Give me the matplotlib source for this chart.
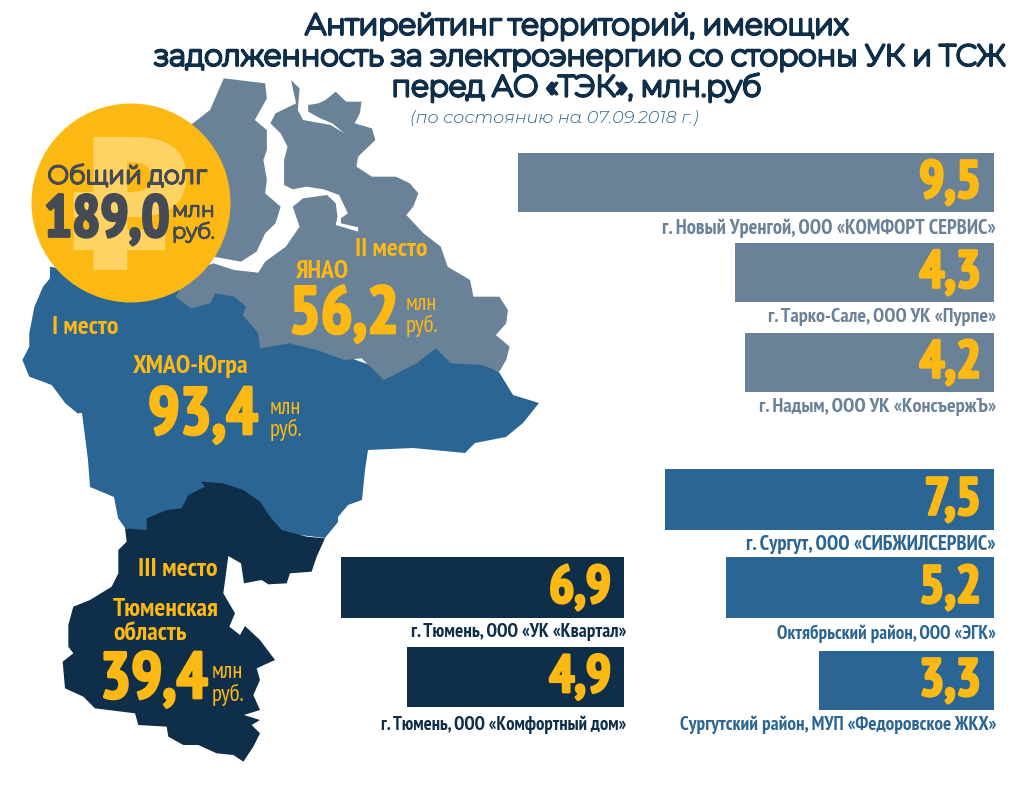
import matplotlib
matplotlib.use("Agg")
import matplotlib.pyplot as plt
from matplotlib.patches import Polygon, Circle
import matplotlib.patheffects as pe

NARROW = ["PT Sans Narrow", "DejaVu Sans"]
ROUND = ["Montserrat", "DejaVu Sans"]
ITALIC = ["Montserrat Alternates", "DejaVu Sans"]

GREY = "#6A8297"
BLUE = "#2A6593"
NAVY = "#0F2E4A"
GOLD = "#FDB913"
DARK_TEXT = "#444B54"

# the bars in the original are not on one common scale, so each keeps its drawn length
bars = [
    {"value": "9,5", "length": 476, "right": 994, "top": 153, "bottom": 212, "color": GREY, "label": "г. Новый Уренгой, ООО «КОМФОРТ СЕРВИС»", "label_y": 228, "label_size": 14.8},
    {"value": "4,3", "length": 259, "right": 994, "top": 243, "bottom": 302, "color": GREY, "label": "г. Тарко-Сале, ООО УК «Пурпе»", "label_y": 317, "label_size": 14.6},
    {"value": "4,2", "length": 249, "right": 994, "top": 333, "bottom": 392, "color": GREY, "label": "г. Надым, ООО УК «КонсъержЪ»", "label_y": 407, "label_size": 14.7},
    {"value": "7,5", "length": 329, "right": 994, "top": 469, "bottom": 530, "color": BLUE, "label": "г. Сургут, ООО «СИБЖИЛСЕРВИС»", "label_y": 545, "label_size": 14.8},
    {"value": "5,2", "length": 268, "right": 994, "top": 557, "bottom": 618, "color": BLUE, "label": "Октябрьский район, ООО «ЭГК»", "label_y": 634, "label_size": 13.7},
    {"value": "3,3", "length": 175, "right": 994, "top": 651, "bottom": 710, "color": BLUE, "label": "Сургутский район, МУП «Федоровское ЖКХ»", "label_y": 725, "label_size": 13.9},
    {"value": "6,9", "length": 283, "right": 624, "top": 557, "bottom": 618, "color": NAVY, "label": "г. Тюмень, ООО «УК «Квартал»", "label_y": 632, "label_size": 13.9},
    {"value": "4,9", "length": 217, "right": 624, "top": 647, "bottom": 707, "color": NAVY, "label": "г. Тюмень, ООО «Комфортный дом»", "label_y": 725, "label_size": 13.5},
]

yamal = [(650,25),(770,40),(775,85),(740,150),(775,180),(775,240),(765,270),(775,330),(770,370),(815,410),(800,460),(770,490),(745,545),(700,575),(620,560),(500,500),(500,200),(560,160),(610,120),(635,60)]
yanao = [(560,600),(620,580),(680,600),(750,608),(770,575),(830,530),(870,470),(850,410),(880,385),(950,375),(975,400),(980,440),(975,465),(1040,485),(1040,472),(990,460),(990,445),(1010,430),(985,375),(940,358),(890,350),(850,358),(825,345),(825,270),(835,230),(815,190),(785,160),(800,130),(860,100),(845,30),(870,55),(865,120),(880,150),(960,165),(1000,190),(965,160),(930,145),(895,125),(895,105),(925,100),(945,90),(975,65),(1005,95),(1050,95),(1045,130),(1030,160),(1080,175),(1090,210),(1040,260),(1035,290),(1080,320),(1150,320),(1190,340),(1215,370),(1200,410),(1180,435),(1230,490),(1280,530),(1300,590),(1365,630),(1375,680),(1450,680),(1475,720),(1470,760),(1440,795),(1480,830),(1470,870),(1450,905),(1400,885),(1310,880),(1265,835),(1210,880),(1115,930),(1050,865),(1000,870),(920,840),(840,820),(755,835),(750,790),(705,735),(715,710),(680,680),(625,670),(610,700),(555,715),(510,680)]
khmao_north = [(145,590),(145,625),(125,650),(100,710),(85,790),(85,830),(65,870),(85,920),(150,945),(190,1000),(225,1030)]
khmao_south = [(82,413),(88,460),(90,487),(114,497),(118,518),(125,528),(147,535),(300,535),(325,538),(338,522),(338,517),(348,505),(362,500),(365,470),(368,450),(413,448),(465,453),(475,443),(506,437),(523,423),(539,403),(513,395),(499,372),(440,340),(384,370),(300,340),(262,330),(250,305),(235,290),(215,285),(180,290)]
tyumen = [(255,235),(320,240),(320,205),(380,180),(425,175),(445,135),(495,110),(483,95),(550,100),(610,120),(660,155),(690,200),(725,240),(800,260),(855,265),(830,320),(815,365),(750,370),(740,400),(685,403),(665,390),(612,400),(603,340),(565,318),(550,430),(585,490),(568,530),(600,555),(615,528),(660,570),(705,630),(650,655),(660,690),(640,735),(660,780),(612,795),(660,810),(635,825),(660,850),(640,890),(610,935),(580,915),(530,910),(475,885),(430,885),(385,860),(380,830),(295,825),(285,790),(165,775),(130,740),(75,715),(68,635),(100,610),(85,590),(85,525),(100,470),(150,450),(215,410),(235,370),(235,300),(260,275)]


def crop_top(points):
    return [(x / 2.904, 70 + y / 3) for x, y in points]


def crop_bottom(points):
    return [(40 + x / 3, 450 + y / 3) for x, y in points]


def put(ax, x, y, text, size, color=GOLD, ha="left", family=NARROW, weight="bold", heavy=0, **kw):
    t = ax.text(x, y, text, fontsize=size, color=color, ha=ha, va="center",
                family=family, fontweight=weight, **kw)
    if heavy:
        t.set_path_effects([pe.withStroke(linewidth=heavy, foreground=color)])
    return t


fig = plt.figure(figsize=(10.24, 7.9), dpi=100)
ax = fig.add_axes([0, 0, 1, 1])
ax.set_xlim(0, 1024)
ax.set_ylim(790, 0)
ax.axis("off")

# map
ax.add_patch(Polygon(crop_top(khmao_north) + khmao_south, color=BLUE, lw=0, zorder=1))
ax.add_patch(Polygon(crop_top(yamal), color=GREY, lw=0, zorder=2))
ax.add_patch(Polygon(crop_top(yanao), color=GREY, lw=0, zorder=2))
ax.add_patch(Polygon(crop_bottom(tyumen), color=NAVY, lw=0, zorder=3))

# bars
for b in bars:
    ax.barh((b["top"] + b["bottom"]) / 2, b["length"], left=b["right"] - b["length"],
            height=b["bottom"] - b["top"], color=b["color"], zorder=2)
    put(ax, b["right"] - 13, (b["top"] + b["bottom"]) / 2 + 2, b["value"], 38, ha="right", heavy=2, zorder=4)
    put(ax, b["right"] + 2, b["label_y"], b["label"], b["label_size"], color=b["color"], ha="right", zorder=4)

# title, the installed Montserrat is a thin cut so it gets thickened with a stroke
put(ax, 576, 27, "Антирейтинг территорий, имеющих", 21.2, color=NAVY, ha="center", family=ROUND, heavy=2.2)
put(ax, 579, 58, "задолженность за электроэнергию со стороны УК и ТСЖ", 21.2, color=NAVY, ha="center", family=ROUND, heavy=2.2)
put(ax, 576, 88, "перед АО «ТЭК», млн.руб", 21.2, color=NAVY, ha="center", family=ROUND, heavy=2.2)
put(ax, 410, 118, "(по состоянию на 07.09.2018 г.)", 12.7, color=BLUE, family=ITALIC, weight=300, style="italic")

# total debt badge
ax.add_patch(Circle((131, 203), 99.5, color=GOLD, lw=0, zorder=5))
put(ax, 130, 220, "₽", 130, color="#FFD264", ha="center", family=["DejaVu Sans"], zorder=6)
put(ax, 127, 177, "Общий долг", 18.1, color=DARK_TEXT, ha="center", family=ROUND, heavy=1.8, zorder=7)
put(ax, 44, 222, "189,0", 42.5, color=DARK_TEXT, heavy=2, zorder=7)
put(ax, 172, 211, "млн", 15, color=DARK_TEXT, family=ROUND, heavy=1.4, zorder=7)
put(ax, 172, 232, "руб.", 15, color=DARK_TEXT, family=ROUND, heavy=1.4, zorder=7)

# region captions
put(ax, 355, 250, "II место", 18.5, zorder=7)
put(ax, 296, 271, "ЯНАО", 18.5, zorder=7)
put(ax, 289, 316, "56,2", 48, heavy=2, zorder=7)
put(ax, 406, 304, "млн", 16.5, weight="normal", zorder=7)
put(ax, 406, 326, "руб.", 16.5, weight="normal", zorder=7)

put(ax, 52, 327, "I место", 18.5, zorder=7)
put(ax, 133, 367, "ХМАО-Югра", 18.7, zorder=7)
put(ax, 148, 417, "93,4", 48, heavy=2, zorder=7)
put(ax, 270, 409, "млн", 16.5, weight="normal", zorder=7)
put(ax, 270, 430, "руб.", 16.5, weight="normal", zorder=7)

put(ax, 138, 570, "III место", 18.7, zorder=7)
put(ax, 113, 610, "Тюменская", 18.5, zorder=7)
put(ax, 113, 633, "область", 18.5, zorder=7)
put(ax, 100, 682, "39,4", 47, heavy=2, zorder=7)
put(ax, 212, 673, "млн", 16.5, weight="normal", zorder=7)
put(ax, 212, 695, "руб.", 16.5, weight="normal", zorder=7)

fig.savefig("out.png", dpi=100)
